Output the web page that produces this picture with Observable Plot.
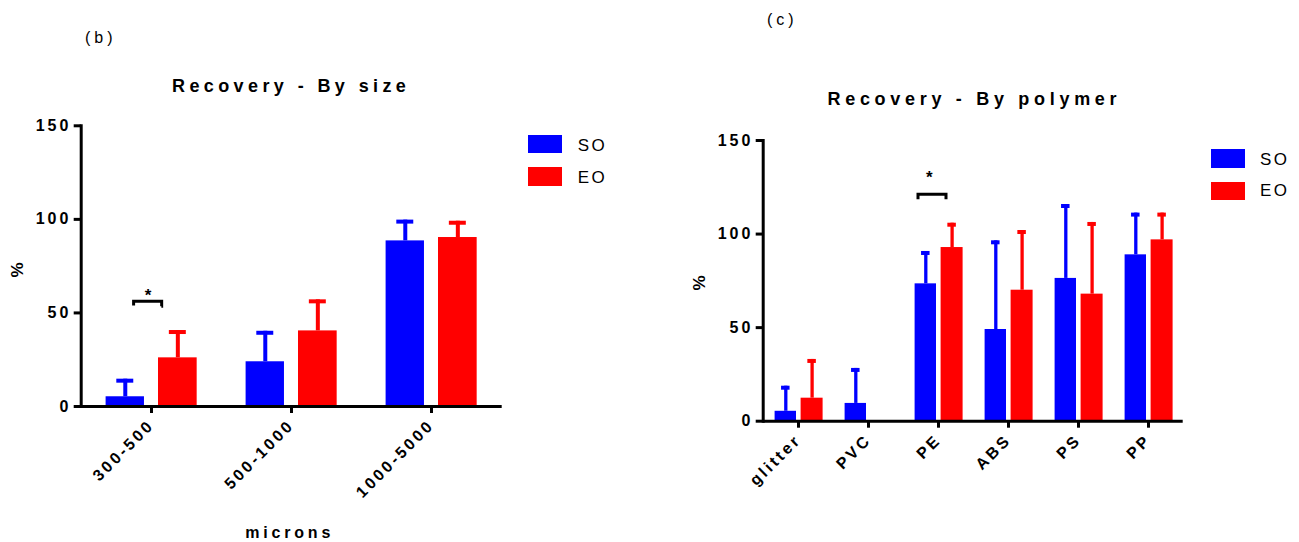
<!DOCTYPE html>
<html><head><meta charset="utf-8">
<script src="https://cdn.jsdelivr.net/npm/d3@7"></script>
<script src="https://cdn.jsdelivr.net/npm/@observablehq/plot@0.6"></script>
<style>
body{margin:0;background:#fff;}
#wrap{position:relative;width:1299px;height:542px;overflow:hidden;font-family:"Liberation Sans",Arial,sans-serif;color:#000;background:#fff}
.t{position:absolute;white-space:nowrap;line-height:1;}
.sw{position:absolute;}
.chart{position:absolute;top:0;}
</style></head><body><div id="wrap"></div>
<script>
// ---------- data ----------
const series = ["SO", "EO"];
const seriesColors = ["#0000ff", "#ff0000"];

// (b) Recovery - By size
const sizeCategories = ["300-500", "500-1000", "1000-5000"];
const sizeSO   = [5.2, 23.9, 88.5];
const sizeSOsd = [9.4, 16.3, 11.1];
const sizeEO   = [26.0, 40.4, 90.3];
const sizeEOsd = [14.6, 16.6, 8.7];
const sizeSig = ["300-500"];
const sizeSigLevel = [56];

// (c) Recovery - By polymer
const polymerCategories = ["glitter", "PVC", "PE", "ABS", "PS", "PP"];
const polymerSO   = [5.3, 9.5, 73.4, 49.0, 76.3, 88.9];
const polymerSOsd = [13.4, 18.7, 17.3, 47.4, 39.5, 22.3];
const polymerEO   = [12.3, 0, 92.8, 70.0, 67.9, 96.9];
const polymerEOsd = [20.7, 0, 13.0, 31.9, 38.3, 14.3];
const polymerSig = ["PE"];
const polymerSigLevel = [121];

const yTicks = [0, 50, 100, 150];

// ---------- chart builder ----------
function makeChart(cfg) {
  const {cats, so, soSd, eo, eoSd, sig, sigLevel, width, height, mL, mR, mT, mB, layout, stemW, capH, bracket, star} = cfg;
  const rows = [];
  cats.forEach((c, i) => {
    rows.push({cat: c, series: "SO", value: so[i], sd: soSd[i]});
    rows.push({cat: c, series: "EO", value: eo[i], sd: eoSd[i]});
  });
  const step = (width - mL - mR) / cats.length;
  const marks = [];
  series.forEach((s, k) => {
    const {center, barW, capW} = layout[s];
    const data = rows.filter(d => d.series === s);
    const withErr = data.filter(d => d.sd > 0);
    const col = seriesColors[k];
    marks.push(Plot.barY(data, {x: "cat", y: "value", fill: col,
      insetLeft: center - barW / 2, insetRight: step - center - barW / 2}));
    marks.push(Plot.ruleX(withErr, {x: "cat", y1: "value", y2: d => d.value + d.sd,
      stroke: col, strokeWidth: stemW, dx: center - step / 2}));
    marks.push(Plot.barY(withErr, {x: "cat", y1: d => d.value + d.sd, y2: d => d.value + d.sd,
      fill: col, insetBottom: -capH, insetLeft: center - capW / 2, insetRight: step - center - capW / 2}));
  });
  const sigData = sig.map((c, i) => ({cat: c, level: sigLevel[i]}));
  const bw = bracket.right - bracket.left, bh = bracket.h;
  marks.push(Plot.barY(sigData, {x: "cat", y1: "level", y2: "level", insetBottom: -bh,
    insetLeft: bracket.left, insetRight: step - bracket.right,
    fill: "none", stroke: "#000", strokeWidth: 3, strokeDasharray: `${bw + bh} ${bw} ${bh + 2}`}));
  marks.push(Plot.text(sigData, {x: "cat", y: "level", text: () => "*", dx: star.dx, dy: star.dy,
    fontSize: 17, fontWeight: "bold"}));
  marks.push(Plot.ruleY([0], {stroke: "#000", strokeWidth: 3}));
  marks.push(Plot.frame({anchor: "left", stroke: "#000", strokeWidth: 3}));
  marks.push(Plot.axisY({ticks: yTicks, tickSize: 7, tickPadding: 3, strokeWidth: 3, label: null,
    fontSize: 16, fontWeight: "bold"}));
  marks.push(Plot.axisX({tickRotate: -45, tickSize: 7, tickPadding: 9, strokeWidth: 3, label: null,
    fontSize: 16, fontWeight: "bold"}));
  return Plot.plot({
    width, height,
    marginLeft: mL, marginRight: mR, marginTop: mT, marginBottom: mB,
    x: {type: "band", domain: cats, padding: 0},
    y: {domain: [0, 150]},
    style: {fontFamily: "'Liberation Sans', Arial, sans-serif", fontSize: "16px", fontWeight: "bold",
      letterSpacing: "2.9px", background: "transparent", color: "#000", overflow: "visible"},
    marks
  });
}

const wrap = document.getElementById("wrap");

const left = makeChart({
  cats: sizeCategories, so: sizeSO, soSd: sizeSOsd, eo: sizeEO, eoSd: sizeEOsd,
  sig: sizeSig, sigLevel: sizeSigLevel,
  width: 520, height: 542, mL: 80.7, mR: 18.3, mT: 125.3, mB: 136,
  layout: {SO: {center: 43.95, barW: 38.7, capW: 17.3}, EO: {center: 96.5, barW: 39, capW: 17.3}},
  stemW: 4, capH: 4,
  bracket: {left: 52.6, right: 81, h: 5},
  star: {dx: -2, dy: -6.5}
});
left.classList.add("chart");
left.style.left = "0px";
wrap.appendChild(left);

const right = makeChart({
  cats: polymerCategories, so: polymerSO, soSd: polymerSOsd, eo: polymerEO, eoSd: polymerEOsd,
  sig: polymerSig, sigLevel: polymerSigLevel,
  width: 540, height: 542, mL: 102.7, mR: 17.3, mT: 140, mB: 121.3,
  layout: {SO: {center: 22.3, barW: 21.4, capW: 8.5}, EO: {center: 48.6, barW: 22, capW: 8.5}},
  stemW: 3.3, capH: 4,
  bracket: {left: 15, right: 43, h: 5},
  star: {dx: -7.7, dy: -17.5}
});
right.classList.add("chart");
right.style.left = "660px";
wrap.appendChild(right);

// ---------- titles, labels, legends ----------
function txt(s, x, y, css) {
  const d = document.createElement("div");
  d.className = "t";
  d.textContent = s;
  d.style.left = x + "px";
  d.style.top = y + "px";
  Object.assign(d.style, css || {});
  wrap.appendChild(d);
  return d;
}
const titleCss = {fontSize: "18px", fontWeight: "bold", letterSpacing: "4.4px"};
txt("(b)", 85, 30, {fontSize: "16px", letterSpacing: "4px"});
txt("(c)", 767, 11.5, {fontSize: "16px", letterSpacing: "4px"});
txt("Recovery - By size", 172, 76.5, titleCss);
txt("Recovery - By polymer", 827.5, 90.3, Object.assign({}, titleCss, {letterSpacing: "4.7px"}));
txt("microns", 289.7, 524.8, {fontSize: "16px", fontWeight: "bold", letterSpacing: "3.8px", transform: "translateX(-50%)"});
txt("%", 17, 270, {fontSize: "17px", fontWeight: "bold", transform: "translate(-50%,-50%) rotate(-90deg)"});
txt("%", 699, 282.5, {fontSize: "17px", fontWeight: "bold", transform: "translate(-50%,-50%) rotate(-90deg)"});

function legend(x, ys, textX, textTops) {
  series.forEach((s, k) => {
    const r = document.createElement("div");
    r.className = "sw";
    Object.assign(r.style, {left: x + "px", top: ys[k] + "px", width: "34px", height: "18.3px", background: seriesColors[k]});
    wrap.appendChild(r);
    txt(s, textX, textTops[k], {fontSize: "17px", letterSpacing: "2.5px"});
  });
}
legend(528.3, [135, 167.3], 577.7, [137.3, 168.9]);
legend(1210.7, [149.3, 181.7], 1260, [151.3, 182.3]);
</script></body></html>
